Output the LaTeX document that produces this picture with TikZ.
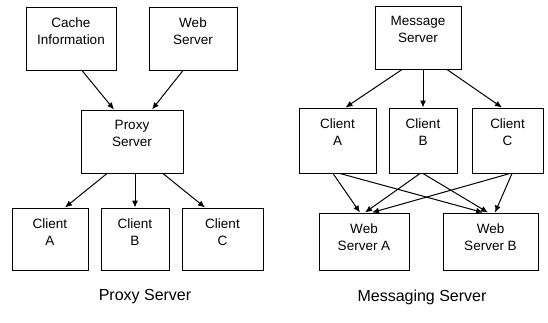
\documentclass[tikz,border=0pt]{standalone}
\usepackage{fontspec}
\setmainfont{Liberation Sans}
\usetikzlibrary{arrows.meta}

\begin{document}
\begin{tikzpicture}[x=1pt,y=-1pt,
          	box/.style={draw,line width=1pt,inner sep=0pt},
          	txt/.style={anchor=north,align=center,inner sep=0pt,yshift=-11pt,
          		font=\fontsize{13.5}{17}\selectfont},
          	link/.style={line width=1pt,-{Latex[length=7pt,width=6pt]}},
          	caption/.style={font=\fontsize{16}{19}\selectfont}]
          	\useasboundingbox (0,0) rectangle (548,322);
          	% proxy server
          	\node[box,minimum width=90pt,minimum height=63pt,label={[txt]north:Cache\\Information}] (cache) at (71,38.5) {};
          	\node[box,minimum width=88pt,minimum height=63pt,label={[txt]north:Web\\Server}] (web) at (193,38.5) {};
          	\node[box,minimum width=102pt,minimum height=63pt,label={[txt]north:Proxy\\Server}] (proxy) at (132,141.5) {};
          	\node[box,minimum width=76pt,minimum height=62pt,label={[txt]north:Client\\A}] (lca) at (50,239) {};
          	\node[box,minimum width=68pt,minimum height=62pt,label={[txt]north:Client\\B}] (lcb) at (135,239) {};
          	\node[box,minimum width=81pt,minimum height=62pt,label={[txt]north:Client\\C}] (lcc) at (222.5,239) {};
          	\draw [link] ([xshift=11pt]cache.south) to ([xshift=-18pt]proxy.north);
          	\draw [link] ([xshift=-10pt]web.south) to ([xshift=20pt]proxy.north);
          	\draw [link] ([xshift=-25pt]proxy.south) to ([xshift=15pt]lca.north);
          	\draw [link] ([xshift=3pt]proxy.south) to (lcb.north);
          	\draw [link] ([xshift=31pt]proxy.south) to ([xshift=-17.5pt]lcc.north);
          	\node[caption] (capl) at (145,297) {Proxy Server};
          	% messaging server
          	\node[box,minimum width=86pt,minimum height=63pt,label={[txt]north:Message\\Server}] (msg) at (418,37.5) {};
          	\node[box,minimum width=77pt,minimum height=65pt,label={[txt]north:Client\\A}] (rca) at (337.5,140.5) {};
          	\node[box,minimum width=68pt,minimum height=65pt,label={[txt]north:Client\\B}] (rcb) at (423,140.5) {};
          	\node[box,minimum width=71pt,minimum height=65pt,label={[txt]north:Client\\C}] (rcc) at (507.5,140.5) {};
          	\node[box,minimum width=90pt,minimum height=57pt,label={[txt]north:Web\\Server A}] (wsa) at (364,241.5) {};
          	\node[box,minimum width=95pt,minimum height=57pt,label={[txt]north:Web\\Server B}] (wsb) at (490.5,241.5) {};
          	\draw [link] ([xshift=-16pt]msg.south) to ([xshift=8pt]rca.north);
          	\draw [link] ([xshift=5pt]msg.south) to (rcb.north);
          	\draw [link] ([xshift=29pt]msg.south) to ([xshift=-5.5pt]rcc.north);
          	\draw [link] ([xshift=-4.5pt]rca.south) to ([xshift=-4pt]wsa.north);
          	\draw [link] ([xshift=2.5pt]rca.south) to ([xshift=-7.5pt]wsb.north);
          	\draw [link] ([xshift=-3pt]rcb.south) to ([xshift=1pt]wsa.north);
          	\draw [link] (rcb.south) to ([xshift=-2.5pt]wsb.north);
          	\draw [link] ([xshift=2.5pt]rcc.south) to ([xshift=8pt]wsa.north);
          	\draw [link] ([xshift=4.5pt]rcc.south) to ([xshift=4.5pt]wsb.north);
          	\node[caption] (capr) at (422,297) {Messaging Server};
          	\end{tikzpicture}
\end{document}
